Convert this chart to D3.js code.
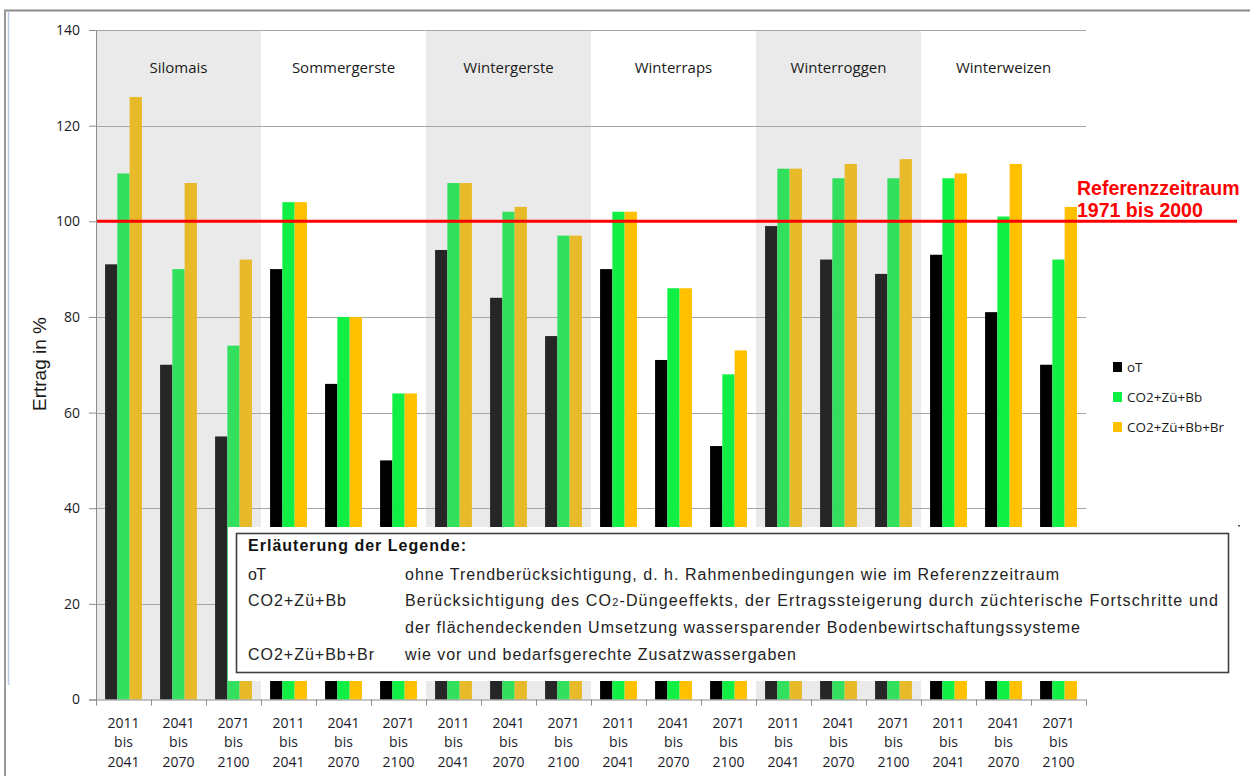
<!DOCTYPE html>
<html>
<head>
<meta charset="utf-8">
<script src="https://cdn.jsdelivr.net/npm/d3@7"></script>
<style>
  html, body { margin: 0; padding: 0; background: #fff; }
  svg { display: block; }
</style>
</head>
<body>
<svg id="chart" width="1250" height="776"></svg>
<script>
// ---------- DATA ----------
const crops = ["Silomais", "Sommergerste", "Wintergerste", "Winterraps", "Winterroggen", "Winterweizen"];
const periods = [["2011", "bis", "2041"], ["2041", "bis", "2070"], ["2071", "bis", "2100"]];
const seriesNames = ["oT", "CO2+Zü+Bb", "CO2+Zü+Bb+Br"];
// values per crop x period (18 categories)
const valuesOT    = [91, 70, 55,  90, 66, 50,  94, 84, 76,  90, 71, 53,  99, 92, 89,  93, 81, 70];
const valuesCO2   = [110, 90, 74, 104, 80, 64, 108, 102, 97, 102, 86, 68, 111, 109, 109, 109, 101, 92];
const valuesCO2Br = [126, 108, 92, 104, 80, 64, 108, 103, 97, 102, 86, 73, 111, 112, 113, 110, 112, 103];
const yTicks = [0, 20, 40, 60, 80, 100, 120, 140];
const referenceValue = 100;
const referenceLabel = ["Referenzzeitraum", "1971 bis 2000"];
const shadedCrops = ["Silomais", "Wintergerste", "Winterroggen"];
const legendTitle = "Erläuterung der Legende:";
const legendRows = [
  { key: "oT", text: [["ohne Trendberücksichtigung, d. h. Rahmenbedingungen wie im Referenzzeitraum"]] },
  { key: "CO2+Zü+Bb", text: [["Berücksichtigung des CO", "2", "-Düngeeffekts, der Ertragssteigerung durch züchterische Fortschritte und"],
                             ["der flächendeckenden Umsetzung wassersparender Bodenbewirtschaftungssysteme"]] },
  { key: "CO2+Zü+Bb+Br", text: [["wie vor und bedarfsgerechte Zusatzwassergaben"]] }
];

// ---------- STYLE ----------
const colorsPlain  = ["#000000", "#10F044", "#FFC000"];
const colorsShaded = ["#262626", "#33E05E", "#E8BA2A"];

const svg = d3.select("#chart");

// frame lines of the original screenshot
svg.append("rect").attr("x", 0).attr("y", 0).attr("width", 1250).attr("height", 776).attr("fill", "#fff");
svg.append("line").attr("x1", 4).attr("x2", 1250).attr("y1", 10.5).attr("y2", 10.5).attr("stroke", "#8a8a8a").attr("stroke-width", 2);
svg.append("line").attr("x1", 5).attr("x2", 5).attr("y1", 10).attr("y2", 776).attr("stroke", "#9a9a9a").attr("stroke-width", 2);
svg.append("line").attr("x1", 8.5).attr("x2", 8.5).attr("y1", 12).attr("y2", 685).attr("stroke", "#b9cbe8").attr("stroke-width", 1.5);

// categories
const cats = [];
crops.forEach((c, ci) => periods.forEach((p, pi) => cats.push({ crop: c, ci, pi, period: p })));
cats.forEach((d, i) => { d.i = i; d.vals = [valuesOT[i], valuesCO2[i], valuesCO2Br[i]]; });

const plotL = 96, plotR = 1086, plotT = 30, plotB = 699.5;
const x0 = d3.scaleBand().domain(d3.range(cats.length)).range([plotL, plotR]).paddingInner(0).paddingOuter(0);
const bw = x0.bandwidth();
const x1 = d3.scaleBand().domain(seriesNames).range([bw * 0.165, bw * 0.835]).padding(0);
const y = d3.scaleLinear().domain([0, 140]).range([plotB, plotT]);
const xLin = d3.scaleLinear().domain([0, cats.length]).range([plotL, plotR]);

// shaded bands
crops.forEach((c, ci) => {
  if (!shadedCrops.includes(c)) return;
  svg.append("rect")
    .attr("x", x0(ci * 3)).attr("y", y(140))
    .attr("width", bw * 3).attr("height", y(0) - y(140))
    .attr("fill", "#EAEAEA");
});

// gridlines
svg.append("g").selectAll("line").data(yTicks.filter(t => t > 0)).join("line")
  .attr("x1", plotL).attr("x2", plotR)
  .attr("y1", d => Math.round(y(d)) + 0.5).attr("y2", d => Math.round(y(d)) + 0.5)
  .attr("stroke", "#a6a6a6").attr("stroke-width", 1);

// group labels
svg.append("g").selectAll("text").data(crops).join("text")
  .attr("x", (d, ci) => x0(ci * 3) + bw * 1.5)
  .attr("y", 73)
  .attr("text-anchor", "middle")
  .attr("font-family", "'Open Sans', sans-serif")
  .attr("font-size", 15)
  .attr("fill", "#1a1a1a")
  .text(d => d);

// bars
const gCat = svg.append("g").selectAll("g").data(cats).join("g")
  .attr("transform", d => `translate(${x0(d.i)},0)`);
gCat.selectAll("rect").data(d => d.vals.map((v, si) => ({ v, si, shaded: shadedCrops.includes(d.crop) }))).join("rect")
  .attr("x", d => x1(seriesNames[d.si]))
  .attr("width", x1.bandwidth())
  .attr("y", d => y(d.v))
  .attr("height", d => y(0) - y(d.v))
  .attr("fill", d => (d.shaded ? colorsShaded : colorsPlain)[d.si]);

// reference line
svg.append("line")
  .attr("x1", plotL).attr("x2", 1237)
  .attr("y1", y(referenceValue)).attr("y2", y(referenceValue))
  .attr("stroke", "#FF0000").attr("stroke-width", 3);
svg.append("g").selectAll("text").data(referenceLabel).join("text")
  .attr("x", 1077)
  .attr("y", (d, i) => 195 + i * 22)
  .attr("font-family", "'Liberation Sans', Arial, sans-serif")
  .attr("font-weight", "bold")
  .attr("font-size", 19.5)
  .attr("fill", "#FF0000")
  .text(d => d);

// y axis
const yAxis = d3.axisLeft(y).tickValues(yTicks).tickSize(7).tickPadding(9).tickFormat(d3.format("d"));
const gy = svg.append("g").attr("transform", `translate(${plotL},0)`).call(yAxis);
gy.select(".domain").attr("stroke", "#8c8c8c");
gy.selectAll(".tick line").attr("stroke", "#8c8c8c");
gy.selectAll(".tick text").attr("font-family", "'Open Sans', sans-serif").attr("font-size", 14).attr("fill", "#1a1a2a");

// y axis title
svg.append("text")
  .attr("transform", "translate(46,364) rotate(-90)")
  .attr("text-anchor", "middle")
  .attr("font-family", "'Liberation Sans', Arial, sans-serif")
  .attr("font-size", 19)
  .attr("fill", "#1a1a1a")
  .text("Ertrag in %");

// x axis
const xAxis = d3.axisBottom(xLin).tickValues(d3.range(cats.length + 1)).tickSize(6).tickFormat("");
const gx = svg.append("g").attr("transform", `translate(0,${plotB})`).call(xAxis);
gx.select(".domain").attr("stroke", "#8c8c8c").attr("d", `M${plotL},0.5H${plotR}`);
gx.selectAll(".tick line").attr("stroke", "#8c8c8c");

// x labels
const gxl = svg.append("g").selectAll("text").data(cats).join("text")
  .attr("text-anchor", "middle")
  .attr("font-family", "'Open Sans', sans-serif")
  .attr("font-size", 14)
  .attr("fill", "#1a1a2a");
gxl.selectAll("tspan").data(d => d.period.map(t => ({ t, x: x0(d.i) + bw / 2 }))).join("tspan")
  .attr("x", d => d.x)
  .attr("y", (d, i) => 727.5 + i * 19.5)
  .text(d => d.t);

// right legend
const gLeg = svg.append("g").selectAll("g").data(seriesNames).join("g")
  .attr("transform", (d, i) => `translate(1113,${362 + i * 30})`);
gLeg.append("rect").attr("width", 9).attr("height", 10).attr("fill", (d, i) => colorsPlain[i]);
gLeg.append("text").attr("x", 14).attr("y", 9.5)
  .attr("font-family", "'Open Sans', sans-serif").attr("font-size", 13.5).attr("fill", "#1a1a1a")
  .text(d => d);

// small speck at right
svg.append("rect").attr("x", 1238).attr("y", 525).attr("width", 2).attr("height", 1.5).attr("fill", "#555");

// explanation box
svg.append("rect").attr("x", 228).attr("y", 527).attr("width", 1007).attr("height", 154).attr("fill", "#fff");
svg.append("rect").attr("x", 236.5).attr("y", 533.5).attr("width", 992).attr("height", 139)
  .attr("fill", "none").attr("stroke", "#404040").attr("stroke-width", 1.6);

const boxFont = "'Liberation Sans', Arial, sans-serif";
svg.append("text").attr("x", 248).attr("y", 551)
  .attr("font-family", boxFont).attr("font-weight", "bold").attr("font-size", 16).attr("fill", "#111")
  .attr("textLength", 218).attr("lengthAdjust", "spacing")
  .text(legendTitle);

const lineY = [579.5, 605.5, 633, 659.5];
const keyLen = { "oT": 18, "CO2+Zü+Bb": 98, "CO2+Zü+Bb+Br": 126 };
const descLen = [654, 813, 675, 391];
let li = 0;
legendRows.forEach(row => {
  svg.append("text").attr("x", 248).attr("y", lineY[li])
    .attr("font-family", boxFont).attr("font-size", 16).attr("fill", "#222")
    .attr("textLength", keyLen[row.key]).attr("lengthAdjust", "spacing")
    .text(row.key);
  row.text.forEach(parts => {
    const t = svg.append("text").attr("x", 405).attr("y", lineY[li])
      .attr("font-family", boxFont).attr("font-size", 16).attr("fill", "#222")
      .attr("textLength", descLen[li]).attr("lengthAdjust", "spacing");
    if (parts.length === 1) {
      t.text(parts[0]);
    } else {
      t.append("tspan").text(parts[0]);
      t.append("tspan").attr("font-size", 11).text(parts[1]);
      t.append("tspan").text(parts[2]);
    }
    li++;
  });
});
</script>
</body>
</html>
